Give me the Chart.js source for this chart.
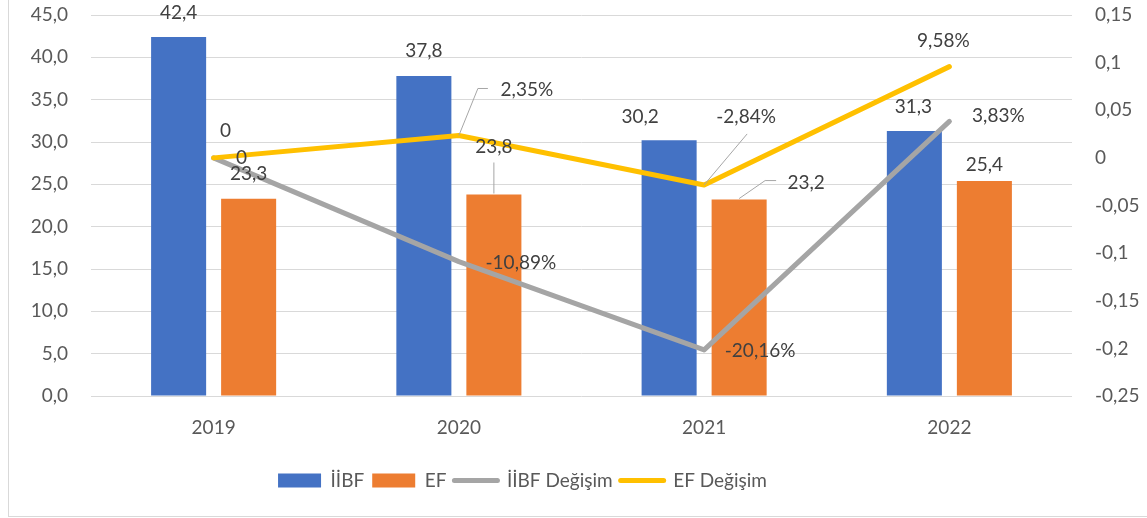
<!DOCTYPE html>
<html>
<head>
<meta charset="utf-8">
<script src="https://cdn.jsdelivr.net/npm/chart.js@4.4.1/dist/chart.umd.min.js"></script>
<style>
    html, body { margin: 0; padding: 0; background: #fff; overflow: hidden; }
    #frame { position: absolute; left: 8px; top: -2px; width: 1145px; height: 517px; border: 1px solid #d9d9d9; }
    #wrap { position: absolute; left: 0; top: 0; width: 1147px; height: 518px; }
</style>
</head>
<body>
<div id="frame"></div>
<div id="wrap"><canvas id="chart" width="1147" height="518"></canvas></div>
<script>
// data
const years = ['2019', '2020', '2021', '2022'];
const iibf = [42.4, 37.8, 30.2, 31.3];
const ef = [23.3, 23.8, 23.2, 25.4];
const iibfChange = [0, -0.1089, -0.2016, 0.0383];
const efChange = [0, 0.0235, -0.0284, 0.0958];
const seriesNames = ['İİBF', 'EF', 'İİBF Değişim', 'EF Değişim'];

const FONT = 'Lato, "Liberation Sans", sans-serif';
const FSIZE = 19;

const fmtBar = v => v.toFixed(1).replace('.', ',');
const fmtPct = v => v === 0 ? '0' : (v * 100).toFixed(2).replace('.', ',') + '%';

// label placement per dataset/point: [dx, dy, leader points relative to the mark]
const labelPlacement = [
    [[0, -24], [0, -25], [-29, -23], [-1, -24]],
    [[0, -25], [0, -48, [[0, -1], [0, -32]]], [67, -17, [[0, -1], [26, -19], [37, -19]]], [0, -16]],
    [[28, 0], [62, 1], [56, 1], [49, -6]],
    [[12, -27], [68, -46, [[0, 0], [19, -47], [29, -47]]], [42, -68, [[0, 0], [43, -51]]], [-6, -26]]
];

const dataLabels = {
    id: 'dataLabels',
    afterDatasetsDraw(chart) {
        const ctx = chart.ctx;
        ctx.save();
        ctx.font = FSIZE + 'px ' + FONT;
        ctx.textAlign = 'center';
        ctx.textBaseline = 'middle';
        chart.data.datasets.forEach((ds, di) => {
            const meta = chart.getDatasetMeta(di);
            meta.data.forEach((el, i) => {
                const [dx, dy, leader] = labelPlacement[di][i];
                if (leader) {
                    ctx.strokeStyle = '#a6a6a6';
                    ctx.lineWidth = 1;
                    ctx.beginPath();
                    leader.forEach(([lx, ly], k) => {
                        if (k === 0) ctx.moveTo(el.x + lx, el.y + ly);
                        else ctx.lineTo(el.x + lx, el.y + ly);
                    });
                    ctx.stroke();
                }
                const v = ds.data[i];
                const txt = ds.type === 'line' ? fmtPct(v) : fmtBar(v);
                ctx.fillStyle = '#404040';
                ctx.fillText(txt, el.x + dx, el.y + dy);
            });
        });
        ctx.restore();
    }
};

const legendShift = {
    id: 'legendShift',
    afterLayout(chart) {
        chart.legend.left -= 102;
    }
};

const ctx = document.getElementById('chart').getContext('2d');
new Chart(ctx, {
    data: {
        labels: years,
        datasets: [
            { type: 'bar', label: seriesNames[0], data: iibf, backgroundColor: '#4472C4', yAxisID: 'y', order: 2 },
            { type: 'bar', label: seriesNames[1], data: ef, backgroundColor: '#ED7D31', yAxisID: 'y', order: 3 },
            { type: 'line', label: seriesNames[2], data: iibfChange, borderColor: '#A5A5A5', backgroundColor: '#A5A5A5',
              borderWidth: 5, pointRadius: 0, borderCapStyle: 'round', borderJoinStyle: 'round', yAxisID: 'y1', order: 1 },
            { type: 'line', label: seriesNames[3], data: efChange, borderColor: '#FFC000', backgroundColor: '#FFC000',
              borderWidth: 5, pointRadius: 0, borderCapStyle: 'round', borderJoinStyle: 'round', yAxisID: 'y1', order: 0 }
        ]
    },
    options: {
        responsive: false,
        animation: false,
        datasets: {
            bar: { categoryPercentage: 0.571, barPercentage: 0.786 }
        },
        layout: { padding: { top: 15, bottom: 18, left: 0, right: 0 } },
        scales: {
            x: {
                grid: { display: false, drawTicks: false },
                border: { display: false },
                ticks: { color: '#595959', font: { family: FONT, size: FSIZE }, padding: 20 },
                afterFit: s => { s.height = 67; }
            },
            y: {
                position: 'left',
                min: 0, max: 45,
                grid: { color: '#d9d9d9', lineWidth: 1, drawTicks: false },
                border: { display: false },
                ticks: { stepSize: 5, color: '#595959', font: { family: FONT, size: FSIZE }, padding: 23,
                         callback: v => v.toFixed(1).replace('.', ',') },
                afterFit: s => { s.width = 91; s.paddingTop = 0; s.paddingBottom = 0; }
            },
            y1: {
                position: 'right',
                min: -0.25, max: 0.15,
                grid: { display: false, drawTicks: false },
                border: { display: false },
                ticks: { stepSize: 0.05, color: '#595959', font: { family: FONT, size: FSIZE }, padding: 23,
                         callback: v => String(Number(v.toFixed(2))).replace('.', ',') },
                afterFit: s => { s.width = 75; s.paddingTop = 0; s.paddingBottom = 0; }
            }
        },
        plugins: {
            tooltip: { enabled: false },
            legend: {
                position: 'bottom',
                labels: {
                    color: '#595959',
                    font: { family: FONT, size: FSIZE },
                    usePointStyle: true,
                    pointStyleWidth: 43,
                    boxHeight: 14,
                    padding: 8,
                    sort: (a, b) => a.datasetIndex - b.datasetIndex,
                    generateLabels(chart) {
                        const items = Chart.defaults.plugins.legend.labels.generateLabels(chart);
                        items.forEach(it => {
                            const ds = chart.data.datasets[it.datasetIndex];
                            if (ds.type === 'line') {
                                it.pointStyle = 'line';
                                it.lineWidth = 5;
                                it.strokeStyle = ds.borderColor;
                                it.lineCap = 'round';
                            } else {
                                it.pointStyle = 'rect';
                                it.lineWidth = 0;
                            }
                        });
                        return items;
                    }
                }
            }
        }
    },
    plugins: [dataLabels, legendShift]
});
</script>
</body>
</html>
